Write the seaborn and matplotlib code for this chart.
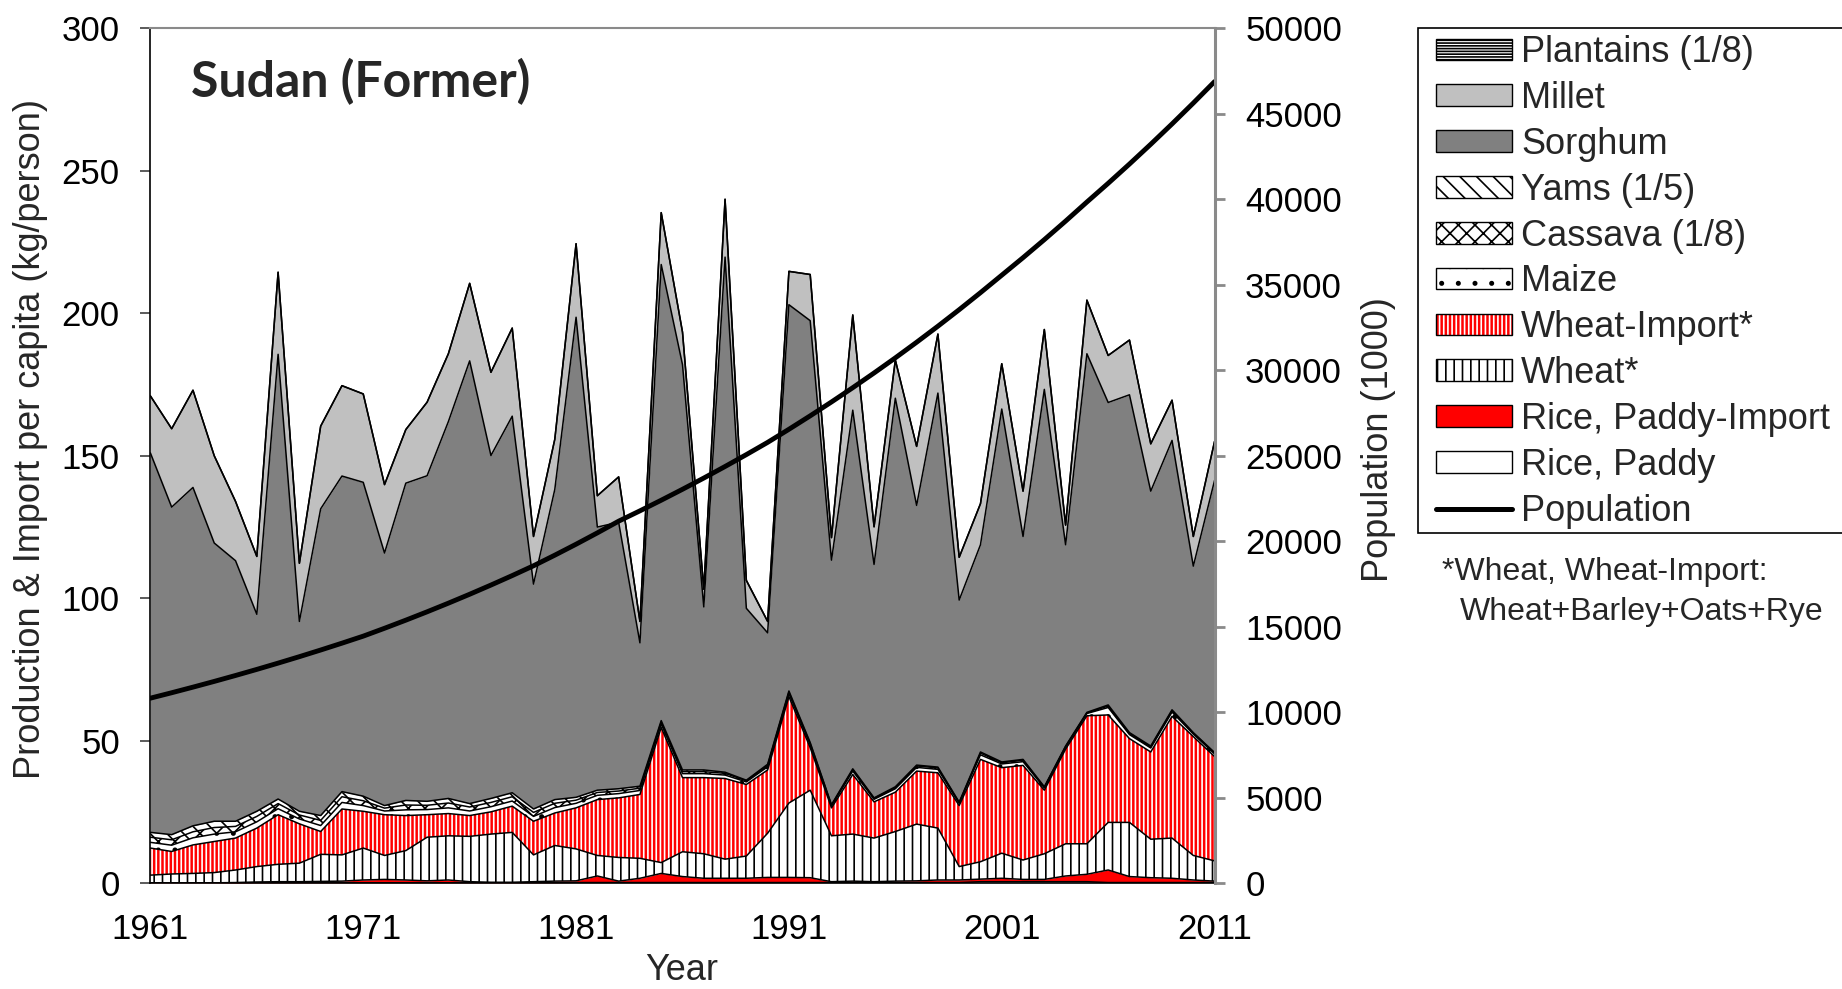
import matplotlib
matplotlib.use("Agg")
import matplotlib.pyplot as plt
from matplotlib.lines import Line2D
from matplotlib.patches import Patch, Rectangle
import numpy as np
import seaborn as sns

years = list(range(1961, 2012))

# kg/person (bottom layer first)
rice_paddy = [0.1, 0.1, 0.1, 0.1, 0.1, 0.2, 0.2, 0.2, 0.2, 0.2,
              0.2, 0.2, 0.2, 0.2, 0.2, 0.2, 0.2, 0.2, 0.2, 0.2,
              0.3, 0.3, 0.3, 0.3, 0.3, 0.3, 0.3, 0.3, 0.3, 0.3,
              0.3, 0.3, 0.3, 0.3, 0.3, 0.3, 0.3, 0.3, 0.3, 0.6,
              0.6, 0.6, 0.6, 0.6, 0.6, 0.3, 0.3, 0.3, 0.3, 0.3,
              0.3]
rice_import = [0.1, 0.1, 0.1, 0.1, 0.2, 0.3, 0.4, 0.4, 0.5, 0.6,
               1.0, 1.2, 1.0, 0.7, 1.0, 0.4, 0.2, 0.2, 0.4, 0.6,
               0.6, 2.3, 0.5, 1.5, 3.2, 2.1, 1.5, 1.5, 1.5, 1.8,
               1.8, 1.7, 0.3, 0.5, 0.3, 0.5, 0.6, 0.9, 0.9, 0.9,
               1.2, 0.8, 0.8, 2.0, 2.6, 4.4, 2.1, 1.7, 1.5, 0.9,
               0.5]
wheat = [2.7, 3.1, 3.3, 3.6, 4.4, 5.4, 6.1, 6.5, 9.5, 9.2,
         11.2, 8.4, 10.3, 15.3, 15.5, 15.9, 16.9, 17.5, 9.4, 12.5,
         11.2, 7.2, 8.3, 7.0, 3.8, 8.7, 8.6, 6.7, 7.8, 15.5,
         26.1, 30.7, 16.1, 16.5, 15.3, 17.4, 19.9, 18.2, 4.7, 6.1,
         8.8, 6.8, 9.0, 11.3, 10.7, 16.7, 19.0, 13.5, 14.1, 8.6,
         7.1]
wheat_import = [9.5, 7.9, 10.0, 10.9, 11.2, 13.5, 17.4, 13.8, 8.0, 16.1,
                12.9, 14.3, 12.3, 7.9, 7.8, 7.3, 7.8, 9.2, 11.8, 11.4,
                14.4, 19.6, 20.9, 22.4, 47.4, 26.0, 26.7, 28.3, 25.1, 22.2,
                37.3, 14.9, 9.8, 20.9, 12.7, 13.8, 18.6, 19.4, 21.4, 35.9,
                30.0, 33.2, 22.3, 33.2, 44.9, 37.7, 29.4, 30.6, 42.7, 41.7,
                36.6]
maize = [2.0, 2.2, 2.5, 2.6, 2.2, 2.2, 2.1, 1.7, 2.1, 2.3,
         2.0, 1.3, 2.0, 1.8, 2.0, 1.6, 1.8, 1.8, 1.7, 1.9,
         1.6, 1.5, 1.5, 1.4, 1.2, 1.4, 1.4, 1.2, 0.9, 1.1,
         1.1, 1.0, 0.7, 1.2, 0.9, 1.2, 1.3, 1.2, 0.8, 1.6,
         1.3, 1.3, 0.8, 0.7, 0.8, 2.6, 1.4, 1.4, 1.5, 0.9,
         0.9]
cassava = [1.8, 1.9, 2.1, 2.3, 1.9, 1.9, 1.8, 1.4, 1.8, 2.0,
           1.7, 1.0, 1.7, 1.5, 1.7, 1.4, 1.5, 1.5, 1.4, 1.5,
           1.1, 1.0, 0.9, 0.8, 0.7, 0.7, 0.7, 0.6, 0.4, 0.5,
           0.5, 0.5, 0.2, 0.5, 0.3, 0.4, 0.5, 0.5, 0.2, 0.6,
           0.4, 0.5, 0.2, 0.2, 0.2, 0.5, 0.4, 0.4, 0.5, 0.3,
           0.3]
yams = [1.7, 1.8, 2.1, 2.2, 1.8, 1.8, 1.6, 1.3, 1.7, 1.8,
        1.6, 0.9, 1.6, 1.4, 1.6, 1.2, 1.4, 1.4, 1.2, 1.3,
        1.0, 0.8, 0.8, 0.7, 0.5, 0.6, 0.6, 0.4, 0.2, 0.4,
        0.4, 0.3, 0.2, 0.3, 0.2, 0.3, 0.3, 0.3, 0.2, 0.4,
        0.3, 0.3, 0.2, 0.2, 0.2, 0.4, 0.3, 0.3, 0.3, 0.2,
        0.2]
sorghum = [133.1, 114.9, 118.7, 97.6, 91.4, 69.1, 156.0, 66.6, 107.6, 110.7,
           110.1, 88.6, 111.3, 114.2, 132.2, 155.3, 120.3, 132.1, 78.9, 108.8,
           168.4, 92.3, 93.5, 50.3, 160.0, 142.2, 57.2, 180.7, 60.3, 46.1,
           135.5, 148.0, 85.8, 125.8, 81.9, 136.3, 91.1, 131.2, 70.9, 72.7,
           123.8, 78.2, 139.4, 70.6, 125.8, 106.1, 118.5, 89.4, 94.5, 58.4,
           95.5]
millet = [20.0, 27.5, 34.1, 30.6, 20.8, 20.3, 28.8, 20.4, 29.0, 31.7,
          31.0, 24.0, 18.8, 25.8, 23.8, 27.2, 29.2, 30.9, 16.7, 17.6,
          25.8, 11.0, 15.9, 7.5, 18.2, 11.4, 6.2, 20.3, 9.8, 4.0,
          11.7, 16.2, 7.9, 33.4, 13.2, 13.4, 20.7, 20.7, 15.0, 14.4,
          15.9, 15.9, 21.0, 6.9, 18.8, 16.5, 19.2, 16.6, 14.1, 10.4,
          13.7]
plantains = [0.0, 0.0, 0.0, 0.0, 0.0, 0.0, 0.0, 0.0, 0.0, 0.0,
             0.0, 0.0, 0.0, 0.0, 0.0, 0.0, 0.0, 0.0, 0.0, 0.0,
             0.0, 0.0, 0.0, 0.0, 0.0, 0.0, 0.0, 0.0, 0.0, 0.0,
             0.0, 0.0, 0.0, 0.0, 0.0, 0.0, 0.0, 0.0, 0.0, 0.0,
             0.0, 0.0, 0.0, 0.0, 0.0, 0.0, 0.0, 0.0, 0.0, 0.0,
             0.0]

# population in thousands (right axis)
population = [10830, 11147, 11474, 11810, 12156, 12512, 12879, 13256, 13645, 14045,
              14456, 14916, 15390, 15879, 16384, 16905, 17443, 17997, 18570, 19190,
              19831, 20494, 21178, 21782, 22403, 23042, 23699, 24375, 25070, 25785,
              26550, 27337, 28148, 28983, 29842, 30727, 31639, 32577, 33543, 34538,
              35560, 36584, 37638, 38722, 39837, 40932, 42058, 43215, 44403, 45624,
              46879]

layer_names = ["Rice, Paddy", "Rice, Paddy-Import", "Wheat*", "Wheat-Import*",
               "Maize", "Cassava (1/8)", "Yams (1/5)", "Sorghum", "Millet",
               "Plantains (1/8)"]
layer_values = [rice_paddy, rice_import, wheat, wheat_import, maize, cassava,
                yams, sorghum, millet, plantains]

# face colour, hatch colour, hatch
styles = {
    "Rice, Paddy": ("white", "black", None),
    "Rice, Paddy-Import": ("#ff0000", "black", None),
    "Wheat*": ("white", "black", "||"),
    "Wheat-Import*": ("#ff0000", "white", "||||"),
    "Maize": ("white", "black", "."),
    "Cassava (1/8)": ("white", "black", "xx"),
    "Yams (1/5)": ("white", "black", "\\\\"),
    "Sorghum": ("#808080", "black", None),
    "Millet": ("#c0c0c0", "black", None),
    "Plantains (1/8)": ("white", "black", "------"),
}

sns.set_style("white")
plt.rcParams["font.family"] = ["Liberation Sans", "DejaVu Sans"]
plt.rcParams["hatch.linewidth"] = 1.2

fig = plt.figure(figsize=(18.42, 9.89), dpi=100)
ax = fig.add_axes([150.4 / 1842, 1 - 883.4 / 989, 1064.2 / 1842, 855.2 / 989])

x = np.array(years)
lower = np.zeros(len(years))
for name, vals in zip(layer_names, layer_values):
    upper = lower + np.array(vals)
    fc, hc, hatch = styles[name]
    ax.fill_between(x, lower, upper, facecolor=fc, edgecolor=hc,
                    hatch=hatch, linewidth=0, zorder=2)
    ax.plot(x, upper, color="black", linewidth=1.1, zorder=3)
    lower = upper

ax.set_xlim(1961, 2011)
ax.set_ylim(0, 300)
ax.set_yticks(range(0, 301, 50))
ax.set_xticks(range(1961, 2012, 5))
ax.set_xticklabels([str(y) if (y - 1961) % 10 == 0 else "" for y in range(1961, 2012, 5)])
ax.tick_params(axis="x", direction="in", length=7, width=1, colors="black",
               labelsize=25, pad=21)
ax.tick_params(axis="y", direction="out", length=7, width=1.2, color="#404040",
               labelcolor="black", labelsize=25, pad=15, left=True)
for side in ["left", "bottom"]:
    ax.spines[side].set_color("black")
    ax.spines[side].set_linewidth(1.2)
ax.spines["top"].set_color("#8a8a8a")
ax.spines["top"].set_linewidth(1.5)
ax.spines["right"].set_visible(False)

ax2 = ax.twinx()
sns.lineplot(x=years, y=population, ax=ax2, color="black", linewidth=3.5,
             legend=False)
ax2.set_ylim(0, 50000)
ax2.set_yticks(range(0, 50001, 5000))
ax2.set_xlim(1961, 2011)
ax2.set_ylabel("")
ax2.set_xlabel("")
ax2.tick_params(axis="y", direction="out", length=7, width=2, color="#8a8a8a",
                labelcolor="black", labelsize=25, pad=15, right=True)
for side in ["left", "top", "bottom"]:
    ax2.spines[side].set_visible(False)
ax2.spines["right"].set_color("#8a8a8a")
ax2.spines["right"].set_linewidth(2.2)

ax.text(0.038, 0.937, "Sudan (Former)", transform=ax.transAxes,
        fontsize=36, fontweight="bold", family=["Lato", "DejaVu Sans"],
        ha="left", va="center", zorder=5)

fig.text(31 / 1842, 1 - 439 / 989, "Production & Import per capita (kg/person)",
         rotation=90, ha="center", va="center", fontsize=26)
fig.text(1378 / 1842, 1 - 440 / 989, "Population (1000)",
         rotation=90, ha="center", va="center", fontsize=26)
fig.text(682 / 1842, 1 - 970 / 989, "Year", ha="center", va="center", fontsize=26)

# legend, top entry first
handles = []
labels = []
for name in reversed(layer_names):
    fc, hc, hatch = styles[name]
    if name == "Wheat-Import*":
        h = (Patch(facecolor=fc, edgecolor=hc, hatch=hatch, linewidth=0),
             Patch(facecolor="none", edgecolor="black", linewidth=1.0))
    else:
        h = Patch(facecolor=fc, edgecolor="black", hatch=hatch, linewidth=1.0)
    handles.append(h)
    labels.append(name)
handles.append(Line2D([], [], color="black", linewidth=3.6))
labels.append("Population")

# legend frame runs off the right edge of the picture
fig.add_artist(Rectangle((1418 / 1842, 1 - 533 / 989), 440 / 1842, 505 / 989,
                         transform=fig.transFigure, facecolor="white",
                         edgecolor="black", linewidth=1.2, zorder=1))
fig.legend(handles, labels, loc="upper left",
           bbox_to_anchor=(1429 / 1842, 1 - 28 / 989),
           bbox_transform=fig.transFigure, fontsize=26, frameon=False,
           borderpad=0.2, labelspacing=0.30, handlelength=2.1,
           handleheight=0.55, handletextpad=0.25, borderaxespad=0)

fig.text(1442 / 1842, 1 - 572 / 989, "*Wheat, Wheat-Import:", ha="left",
         va="center", fontsize=23)
fig.text(1460 / 1842, 1 - 612 / 989, "Wheat+Barley+Oats+Rye", ha="left",
         va="center", fontsize=23)

fig.savefig("out.png", dpi=100)
plt.close(fig)
